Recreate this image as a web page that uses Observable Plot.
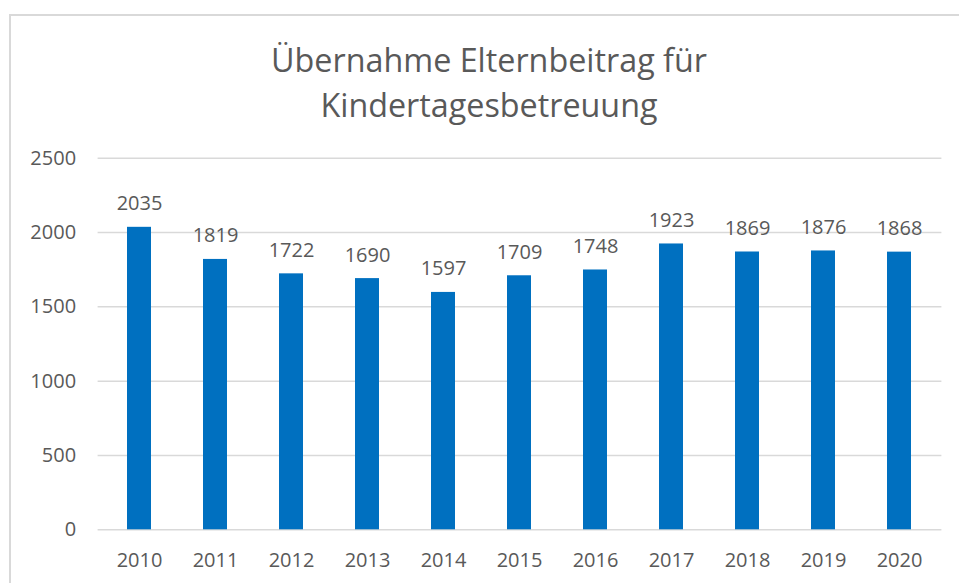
<!DOCTYPE html>
<html>
<head>
<meta charset="utf-8">
<script src="https://cdn.jsdelivr.net/npm/d3@7"></script>
<script src="https://cdn.jsdelivr.net/npm/@observablehq/plot@0.6"></script>
<style>
  html, body { margin: 0; padding: 0; background: #fff; overflow: hidden; }
  #wrap { position: relative; width: 959px; height: 583px; font-family: "Open Sans", sans-serif; }
  #frame { position: absolute; left: 9px; top: 14px; width: 990px; height: 620px;
           border-left: 2px solid #d9d9d9; border-top: 2px solid #d9d9d9; box-sizing: border-box; }
  #title { position: absolute; left: 0; width: 978px; top: 37px; text-align: center;
           font-size: 32.3px; line-height: 45px; color: #595959; }
  #chart { position: absolute; left: 0; top: 0; }
</style>
</head>
<body>
<div id="wrap">
  <div id="frame"></div>
  <div id="title">Übernahme Elternbeitrag für<br>Kindertagesbetreuung</div>
  <div id="chart"></div>
</div>
<script>
const years = ["2010","2011","2012","2013","2014","2015","2016","2017","2018","2019","2020"];
const values = [2035, 1819, 1722, 1690, 1597, 1709, 1748, 1923, 1869, 1876, 1868];
const yTicks = [0, 500, 1000, 1500, 2000, 2500];

const data = years.map((year, i) => ({year, value: values[i]}));
const textColor = "#595959";

const chart = Plot.plot({
  width: 959,
  height: 583,
  marginTop: 157.7,
  marginBottom: 53.7,
  marginLeft: 97.6,
  marginRight: 17.6,
  style: {fontFamily: "'Open Sans', sans-serif", fontSize: "20px", color: textColor, background: "transparent"},
  x: {domain: years, paddingInner: 0.68, paddingOuter: 0.34, label: null},
  y: {domain: [0, 2500], label: null},
  marks: [
    Plot.ruleY(yTicks, {stroke: "#d9d9d9", strokeWidth: 1.5}),
    Plot.barY(data, {x: "year", y: "value", fill: "#0070C0"}),
    Plot.text(data, {x: "year", y: "value", text: d => String(d.value), dy: -17, lineAnchor: "bottom", fill: textColor, fontSize: 20}),
    Plot.axisY(yTicks, {tickSize: 0, tickPadding: 22, fontSize: 20, fill: textColor, label: null, tickFormat: d => String(d)}),
    Plot.axisX({tickSize: 0, tickPadding: 23, fontSize: 20, fill: textColor, label: null})
  ]
});
document.getElementById("chart").appendChild(chart);
</script>
</body>
</html>
